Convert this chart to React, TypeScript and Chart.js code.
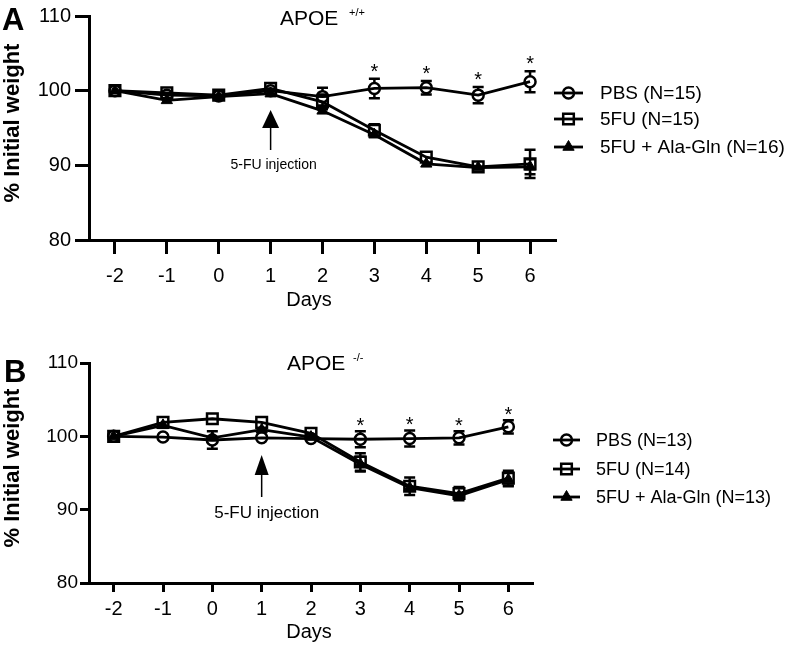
import React, { useEffect, useRef } from "react";
import { Chart, registerables } from "chart.js";

Chart.register(...registerables);

// ---------- data ----------
const days = [-2, -1, 0, 1, 2, 3, 4, 5, 6];
const yTicks = [80, 90, 100, 110];
const starDays = [3, 4, 5, 6];

// Panel A (APOE +/+)
const pbsA = [100, 99.4, 99.3, 100.0, 99.2, 100.3, 100.4, 99.4, 101.2];
const pbsSemA = [0, 0.3, 0.3, 0.4, 1.2, 1.3, 0.9, 1.1, 1.4];
const fuA = [100, 99.7, 99.4, 100.3, 98.5, 94.7, 91.1, 89.8, 90.2];
const fuSemA = [0, 0.3, 0.3, 0.3, 1.0, 0.8, 0.6, 0.6, 1.9];
const alaA = [100, 98.7, 99.2, 99.6, 97.3, 94.1, 90.2, 89.7, 89.8];
const alaSemA = [0, 0.4, 0.3, 0.4, 0.6, 0.6, 0.5, 0.5, 1.0];
const legendA = ["PBS (N=15)", "5FU (N=15)", "5FU + Ala-Gln (N=16)"];

// Panel B (APOE -/-)
const pbsB = [100, 99.9, 99.5, 99.8, 99.7, 99.6, 99.7, 99.8, 101.3];
const pbsSemB = [0, 0.3, 1.2, 0.3, 0.4, 1.1, 1.1, 0.9, 0.9];
const fuB = [100, 101.9, 102.4, 101.9, 100.4, 96.5, 93.2, 92.2, 94.3];
const fuSemB = [0, 0.3, 0.3, 0.3, 0.6, 1.2, 1.2, 0.9, 1.0];
const alaB = [100, 101.5, 99.8, 100.9, 99.9, 96.2, 93.0, 91.9, 94.1];
const alaSemB = [0, 0.4, 0.5, 0.4, 0.5, 1.0, 0.6, 0.7, 0.9];
const legendB = ["PBS (N=13)", "5FU (N=14)", "5FU + Ala-Gln (N=13)"];

const FONT = "'Liberation Sans', Arial, Helvetica, sans-serif";
const W = 789;

type Panel = {
  h: number;
  top: number;
  bottom: number;
  left: number;
  right: number;
  tick: number;
  axisW: number;
  yPad: number;
  xPad: number;
  yFont: number;
  letter: string;
  letterX: number;
  letterY: number;
  title: string;
  titleX: number;
  titleY: number;
  sup: string;
  supX: number;
  supY: number;
  daysY: number;
  yTitleY: number;
  legend: string[];
  legendY: number[];
  legX1: number;
  legX2: number;
  legText: number;
  legFont: number;
  arrowTop: number;
  arrowBase: number;
  arrowEnd: number;
  arrowW: number;
  annY: number;
  annFont: number;
  annDx: number;
  starOff: number;
  pbs: number[];
  pbsSem: number[];
  fu: number[];
  fuSem: number[];
  ala: number[];
  alaSem: number[];
};

const panelA: Panel = {
  h: 320, top: 13, bottom: 240, left: 89, right: 556, tick: 14, axisW: 3, yPad: 4, xPad: 10, yFont: 20,
  letter: "A", letterX: 2, letterY: 30,
  title: "APOE", titleX: 280, titleY: 25, sup: "+/+", supX: 349, supY: 16,
  daysY: 306, yTitleY: 123,
  legend: legendA, legendY: [93, 119, 147], legX1: 554, legX2: 583, legText: 600, legFont: 19,
  arrowTop: 110, arrowBase: 128, arrowEnd: 150, arrowW: 17, annY: 169, annFont: 14, annDx: 3,
  starOff: 1,
  pbs: pbsA, pbsSem: pbsSemA, fu: fuA, fuSem: fuSemA, ala: alaA, alaSem: alaSemA,
};

const panelB: Panel = {
  h: 327, top: 43, bottom: 263, left: 89, right: 533, tick: 9, axisW: 3, yPad: 2, xPad: 5, yFont: 19,
  letter: "B", letterX: 4, letterY: 62,
  title: "APOE", titleX: 287, titleY: 50, sup: "-/-", supX: 353, supY: 41,
  daysY: 318, yTitleY: 148,
  legend: legendB, legendY: [120, 149, 177], legX1: 553, legX2: 580, legText: 596, legFont: 18,
  arrowTop: 135, arrowBase: 155, arrowEnd: 177, arrowW: 14, annY: 198, annFont: 17, annDx: 5,
  starOff: -1,
  pbs: pbsB, pbsSem: pbsSemB, fu: fuB, fuSem: fuSemB, ala: alaB, alaSem: alaSemB,
};

const styles = ["circle", "rect", "triangle"];

function drawMarker(ctx: CanvasRenderingContext2D, style: string, x: number, y: number) {
  ctx.save();
  ctx.strokeStyle = "#000";
  ctx.fillStyle = "#000";
  ctx.lineWidth = 2.5;
  ctx.beginPath();
  if (style === "circle") {
    ctx.arc(x, y, 5.5, 0, Math.PI * 2);
    ctx.stroke();
  } else if (style === "rect") {
    const s = 7.5 * Math.SQRT1_2;
    ctx.rect(x - s, y - s, 2 * s, 2 * s);
    ctx.stroke();
  } else {
    const r = 6.5;
    ctx.lineWidth = 1;
    ctx.moveTo(x, y - r);
    ctx.lineTo(x + r * Math.sin((2 * Math.PI) / 3), y + r * 0.5);
    ctx.lineTo(x - r * Math.sin((2 * Math.PI) / 3), y + r * 0.5);
    ctx.closePath();
    ctx.fill();
    ctx.stroke();
  }
  ctx.restore();
}

function makeChart(canvas: HTMLCanvasElement, p: Panel) {
  const series = [
    { label: p.legend[0], v: p.pbs, s: p.pbsSem, style: "circle", r: 5.5, order: 3 },
    { label: p.legend[1], v: p.fu, s: p.fuSem, style: "rect", r: 7.5, order: 2 },
    { label: p.legend[2], v: p.ala, s: p.alaSem, style: "triangle", r: 6.5, order: 1 },
  ];

  const errorBars = {
    id: "errorBars",
    beforeDatasetsDraw(chart: any) {
      const ctx = chart.ctx as CanvasRenderingContext2D;
      const xs = chart.scales.x;
      const ys = chart.scales.y;
      ctx.save();
      ctx.strokeStyle = "#000";
      ctx.lineWidth = 2.5;
      series.forEach((ser) => {
        days.forEach((d, i) => {
          const sem = ser.s[i];
          if (!sem) return;
          const px = xs.getPixelForValue(d);
          const mid = ys.getPixelForValue(ser.v[i]);
          const top = ys.getPixelForValue(ser.v[i] + sem);
          const bot = ys.getPixelForValue(ser.v[i] - sem);
          const gap = 5.5;
          ctx.beginPath();
          if (top < mid - gap) {
            ctx.moveTo(px, mid - gap);
            ctx.lineTo(px, top);
            ctx.moveTo(px - 5.5, top);
            ctx.lineTo(px + 5.5, top);
          }
          if (bot > mid + gap) {
            ctx.moveTo(px, mid + gap);
            ctx.lineTo(px, bot);
            ctx.moveTo(px - 5.5, bot);
            ctx.lineTo(px + 5.5, bot);
          }
          ctx.stroke();
        });
      });
      ctx.restore();
    },
  };

  const decorations = {
    id: "decorations",
    afterDraw(chart: any) {
      const ctx = chart.ctx as CanvasRenderingContext2D;
      const xs = chart.scales.x;
      const ys = chart.scales.y;
      ctx.save();
      ctx.fillStyle = "#000";
      ctx.strokeStyle = "#000";
      ctx.textBaseline = "alphabetic";

      // panel letter
      ctx.textAlign = "left";
      ctx.font = `bold 31px ${FONT}`;
      ctx.fillText(p.letter, p.letterX, p.letterY);

      // title with superscript
      ctx.font = `21px ${FONT}`;
      ctx.fillText(p.title, p.titleX, p.titleY);
      ctx.font = `11px ${FONT}`;
      ctx.fillText(p.sup, p.supX, p.supY);

      // axis titles
      ctx.textAlign = "center";
      ctx.font = `20px ${FONT}`;
      ctx.fillText("Days", 309, p.daysY);
      ctx.save();
      ctx.translate(12.5, p.yTitleY);
      ctx.rotate(-Math.PI / 2);
      ctx.textBaseline = "middle";
      ctx.font = `bold 22px ${FONT}`;
      ctx.fillText("% Initial weight", 0, 0);
      ctx.restore();

      // asterisks
      ctx.font = `20px ${FONT}`;
      starDays.forEach((d) => {
        const i = days.indexOf(d);
        const px = xs.getPixelForValue(d);
        const top = ys.getPixelForValue(p.pbs[i] + p.pbsSem[i]);
        ctx.fillText("*", px, top - p.starOff);
      });

      // injection arrow
      const ax = xs.getPixelForValue(1);
      ctx.beginPath();
      ctx.moveTo(ax, p.arrowTop);
      ctx.lineTo(ax + p.arrowW / 2, p.arrowBase);
      ctx.lineTo(ax - p.arrowW / 2, p.arrowBase);
      ctx.closePath();
      ctx.fill();
      ctx.lineWidth = 1.5;
      ctx.beginPath();
      ctx.moveTo(ax, p.arrowBase);
      ctx.lineTo(ax, p.arrowEnd);
      ctx.stroke();
      ctx.font = `${p.annFont}px ${FONT}`;
      ctx.fillText("5-FU injection", ax + p.annDx, p.annY);

      // legend
      ctx.textAlign = "left";
      ctx.textBaseline = "middle";
      ctx.font = `${p.legFont}px ${FONT}`;
      series.forEach((ser, k) => {
        const y = p.legendY[k];
        ctx.lineWidth = 2.8;
        ctx.beginPath();
        ctx.moveTo(p.legX1, y);
        ctx.lineTo(p.legX2, y);
        ctx.stroke();
        drawMarker(ctx, ser.style, (p.legX1 + p.legX2) / 2, y);
        ctx.fillText(ser.label, p.legText, y + 1);
      });
      ctx.restore();
    },
  };

  return new Chart(canvas, {
    type: "line",
    data: {
      datasets: series.map((ser) => ({
        label: ser.label,
        data: days.map((d, i) => ({ x: d, y: ser.v[i] })),
        borderColor: "#000",
        borderWidth: 2.8,
        pointStyle: ser.style as any,
        pointRadius: ser.r,
        pointHoverRadius: ser.r,
        pointBorderWidth: ser.style === "triangle" ? 1 : 2.5,
        pointBorderColor: "#000",
        pointBackgroundColor: ser.style === "triangle" ? "#000" : "rgba(0,0,0,0)",
        tension: 0,
        fill: false,
        order: ser.order,
        clip: false as any,
      })),
    },
    options: {
      responsive: false,
      maintainAspectRatio: false,
      animation: false,
      devicePixelRatio: 1,
      events: [],
      layout: { padding: { left: 0, top: p.top, right: W - p.right, bottom: 0 } },
      plugins: { legend: { display: false }, tooltip: { enabled: false } },
      scales: {
        x: {
          type: "linear",
          min: -2.5,
          max: 6.5,
          afterBuildTicks: (s: any) => {
            s.ticks = days.map((v) => ({ value: v }));
          },
          afterFit: (s: any) => {
            s.height = p.h - p.bottom;
          },
          grid: {
            drawOnChartArea: false,
            drawTicks: true,
            tickLength: p.tick,
            tickWidth: p.axisW,
            tickColor: "#000",
            color: "#000",
          },
          border: { display: true, color: "#000", width: p.axisW },
          ticks: {
            color: "#000",
            font: { family: FONT, size: 20 },
            padding: p.xPad,
            maxRotation: 0,
            autoSkip: false,
          },
        },
        y: {
          type: "linear",
          min: 80,
          max: 110,
          afterBuildTicks: (s: any) => {
            s.ticks = yTicks.map((v) => ({ value: v }));
          },
          afterFit: (s: any) => {
            s.width = p.left;
          },
          grid: {
            drawOnChartArea: false,
            drawTicks: true,
            tickLength: p.tick,
            tickWidth: p.axisW,
            tickColor: "#000",
            color: "#000",
          },
          border: { display: true, color: "#000", width: p.axisW },
          ticks: {
            color: "#000",
            font: { family: FONT, size: p.yFont },
            padding: p.yPad,
          },
        },
      },
    },
    plugins: [errorBars, decorations],
  } as any);
}

function PanelChart({ p, top }: { p: Panel; top: number }) {
  const ref = useRef<HTMLCanvasElement | null>(null);
  useEffect(() => {
    if (!ref.current) return;
    const chart = makeChart(ref.current, p);
    return () => chart.destroy();
  }, [p]);
  return (
    <canvas
      ref={ref}
      width={W}
      height={p.h}
      style={{ position: "absolute", left: 0, top, width: W, height: p.h, display: "block" }}
    />
  );
}

export default function App() {
  return (
    <div style={{ position: "absolute", left: 0, top: 0, width: W, height: 647, background: "#fff" }}>
      <PanelChart p={panelA} top={0} />
      <PanelChart p={panelB} top={320} />
    </div>
  );
}
